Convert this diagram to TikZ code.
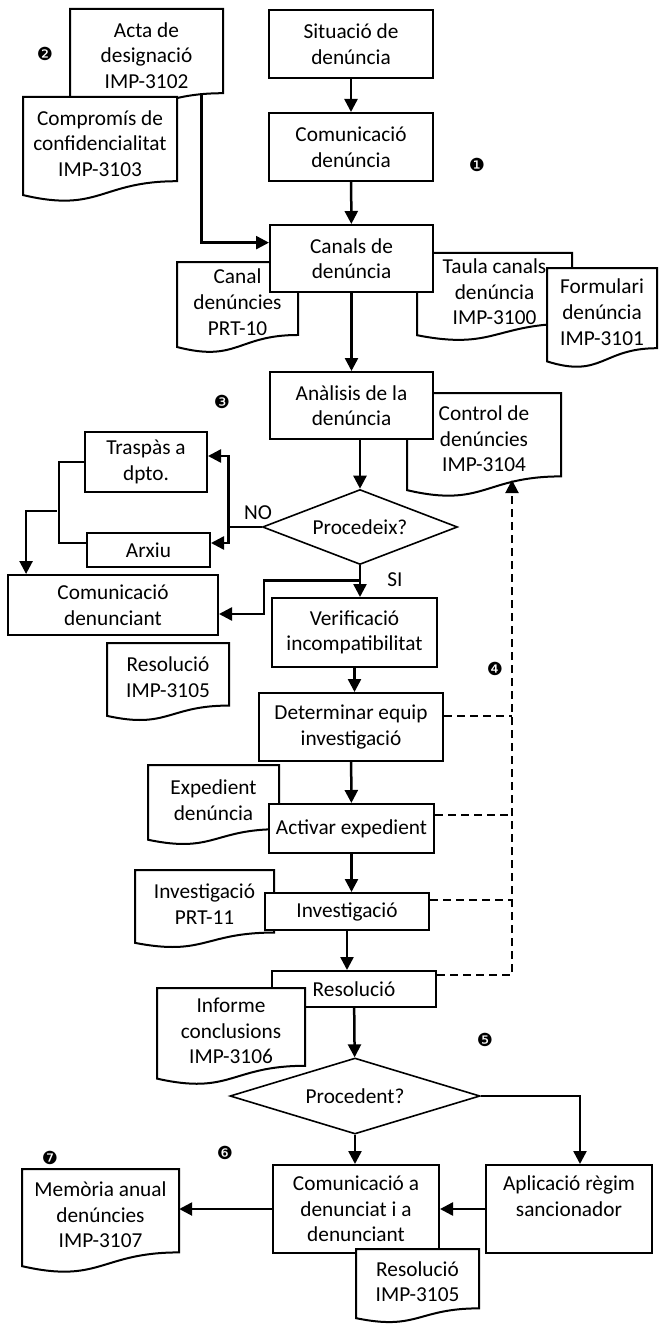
\documentclass[tikz,border=0pt]{standalone}
\usepackage{fontspec}
\setmainfont{Carlito}
\newfontfamily\dingfont{DejaVu Sans}
\usetikzlibrary{shapes.geometric,arrows.meta,calc}

\tikzset{
  box/.style={draw,line width=2pt,fill=white,align=center,inner sep=0pt},
  dia/.style={diamond,draw,line width=1.6pt,fill=white,align=center,inner sep=0pt,aspect=2.6},
  docline/.style={line width=2pt,fill=white},
  doctext/.style={align=center,inner sep=0pt},
  flow/.style={->,line width=2.5pt},
  link/.style={line width=2pt},
  dsh/.style={line width=2pt,dash pattern=on 8pt off 5pt},
  num/.style={font=\dingfont\fontsize{18}{18}\selectfont}
}

\newcommand{\docshape}[5]{%
  \begin{scope}[shift={(#2)}]
    \draw[docline] (0,0) -- (#3,0) -- (#3,0.802*#4) .. controls (0.5*#3,0.802*#4) and (0.5*#3,1.107*#4) .. (0,0.934*#4) -- cycle;
    \node[doctext,minimum width=#3pt,minimum height=0.722*#4pt] (#1) at (0.5*#3,0.441*#4) {#5};
  \end{scope}}

\begin{document}
\begin{tikzpicture}[x=1pt,y=-1pt,>={Triangle[length=13pt,width=13pt]},font=\fontsize{21.3}{25.6}\selectfont]
  \useasboundingbox (0,0) rectangle (660,1324);

  \docshape{acta}{70,9}{153}{105}{Acta de\\designació\\IMP-3102}
  \docshape{comp}{23,97}{154}{105}{Compromís de\\confidencialitat\\IMP-3103}
  \docshape{canal}{177,262}{121}{91}{Canal\\denúncies\\PRT-10}
  \docshape{taula}{417,253}{155}{88}{Taula canals\\denúncia\\IMP-3100}
  \docshape{form}{547,268}{110}{100}{Formulari\\denúncia\\IMP-3101}
  \docshape{ctrl}{407,393}{154}{104}{Control de\\denúncies\\IMP-3104}
  \docshape{resa}{107,643}{122}{78}{Resolució\\IMP-3105}
  \docshape{exped}{148,765}{131}{80}{Expedient\\denúncia}
  \docshape{invd}{135,870}{139}{78}{Investigació\\PRT-11}
  \docshape{mem}{22,1169}{157}{104}{Memòria anual\\denúncies\\IMP-3107}

  \node[box,minimum width=164pt,minimum height=68pt] (sit) at (351,44) {Situació de\\denúncia};
  \node[box,minimum width=164pt,minimum height=68pt] (com) at (351,147) {Comunicació\\denúncia};
  \node[box,minimum width=163pt,minimum height=67pt] (can) at (351.5,258.5) {Canals de\\denúncia};
  \node[box,minimum width=163pt,minimum height=67pt] (ana) at (351.5,405.5) {Anàlisis de la\\denúncia};
  \node[dia,minimum width=195pt,minimum height=75pt] (proc) at (360,527) {Procedeix?};
  \node[box,minimum width=122pt,minimum height=60pt] (tras) at (146,462) {Traspàs a\\dpto.};
  \node[box,minimum width=123pt,minimum height=34pt] (arx) at (148.5,550) {Arxiu};
  \node[box,minimum width=210pt,minimum height=60pt] (cden) at (113,605) {Comunicació\\denunciant};
  \node[box,minimum width=165pt,minimum height=69pt] (ver) at (354.5,632.5) {Verificació\\incompatibilitat};
  \node[box,minimum width=184pt,minimum height=68pt] (det) at (351,727) {Determinar equip\\investigació};
  \node[box,minimum width=165pt,minimum height=49pt] (act) at (351.5,828.5) {Activar expedient};
  \node[box,minimum width=164pt,minimum height=37pt] (inv) at (347,911.5) {Investigació};
  \node[box,minimum width=164pt,minimum height=36pt] (res) at (354,989) {Resolució};
  \node[dia,minimum width=250pt,minimum height=76pt] (pdt) at (355,1096) {Procedent?};
  \node[box,minimum width=166pt,minimum height=88pt] (cdd) at (356,1209) {Comunicació a\\denunciat i a\\denunciant};
  \node[box,minimum width=166pt,minimum height=88pt] (apl) at (569,1209) {Aplicació règim\\sancionador\\\mbox{}};

  \docshape{inf}{157,988}{148}{97}{Informe\\conclusions\\IMP-3106}
  \docshape{resb}{356,1249}{123}{74}{Resolució\\IMP-3105}

  \node (nol) at (258,513) {NO};
  \node (sil) at (395,580) {SI};
  \foreach \n/\x/\y/\t in {n1/477/165/❶,n2/45/54/❷,n3/222/402/❸,n4/495/669/❹,n5/485/1040/❺,n6/225/1153/❻,n7/50/1158/❼}
    \node[num] (\n) at (\x,\y) {\t};

  \draw[flow] (sit) -- (com);
  \draw[flow] (com) -- (can);
  \draw[flow] (can) -- (ana);
  \draw[flow] (ana.south -| proc.north) -- (proc.north);
  \draw[flow] ($(acta.south west)!0.86!(acta.south east)$) |- ($(can.north west)!0.27!(can.south west)$);

  \coordinate (no) at ($(proc.west)+(-33,0)$);
  \draw[link] (proc.west) -- (no);
  \draw[flow] (no) |- ([yshift=6pt]tras.east);
  \draw[flow] (no) |- ([yshift=7pt]arx.east);
  \draw[link] (tras.west) -- ++(-25,0) |- ([yshift=7pt]arx.west);
  \coordinate (brk) at (57,511);
  \draw[flow] (brk) -| ($(cden.north west)!0.09!(cden.north east)$);

  \draw[flow] (proc.south) -- (proc.south |- ver.north);
  \coordinate (si) at ($(proc.south)+(0,15)$);
  \draw[flow] (si) -- ++(-96,0) |- ([yshift=-9pt]cden.east);

  \draw[flow] (ver.south) -- (ver.south |- det.north);
  \draw[flow] (det) -- (act);
  \draw[flow] (act.south) -- (act.south |- inv.north);
  \draw[flow] (inv.south) -- (inv.south |- res.north);
  \draw[flow] (res) -- (pdt);
  \draw[flow] (pdt.south) -- (pdt.south |- cdd.north);
  \draw[flow] (pdt.east) -| ([xshift=11pt]apl.north);
  \draw[flow] (apl) -- (cdd);
  \draw[flow] (cdd.west) -- (cdd.west -| mem.east);

  \coordinate (ctip) at (512,480);
  \coordinate (resr) at ([yshift=14pt]res.east);
  \draw[dsh,->] (resr) -| (ctip);
  \foreach \n/\s in {det/11,act/13.5,inv/11.5}{
    \coordinate (\n r) at ([yshift=\s pt]\n.east);
    \draw[dsh] (\n r) -- (\n r -| ctip);
  }
\end{tikzpicture}
\end{document}
